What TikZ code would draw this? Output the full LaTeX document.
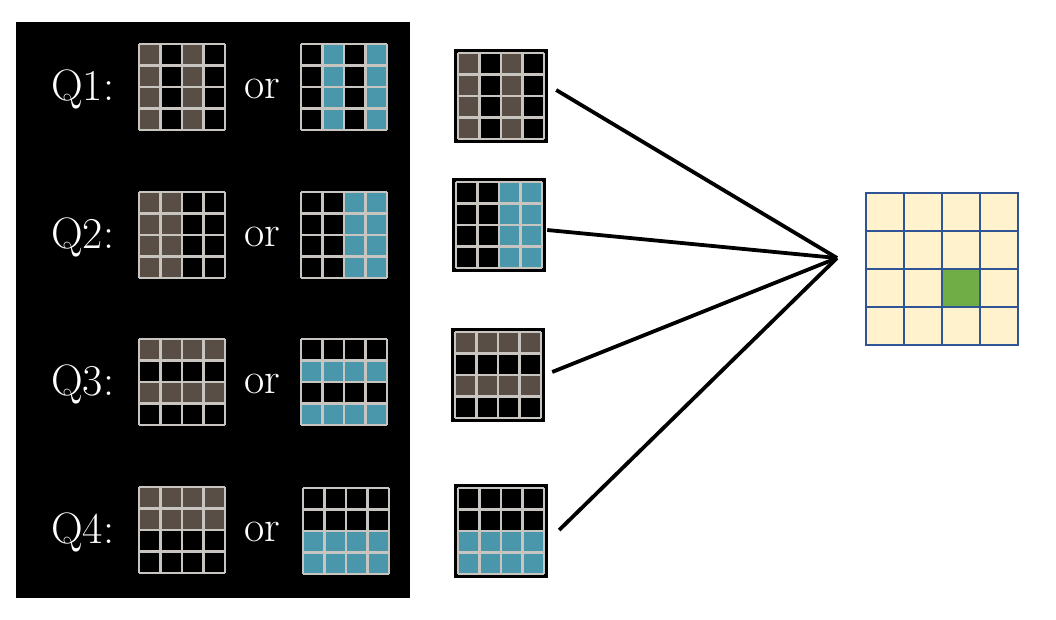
\documentclass[tikz,border=0pt]{standalone}
\usepackage{tikz}

\definecolor{tilebrown}{RGB}{88,78,70}
\definecolor{tileblue}{RGB}{74,150,171}
\definecolor{tileline}{RGB}{200,196,192}
\definecolor{mapcream}{RGB}{255,242,204}
\definecolor{mapline}{RGB}{47,85,151}
\definecolor{mapgreen}{RGB}{112,173,71}

\tikzset{
  tilegrid/.style={draw=tileline, line width=2.4pt, line cap=square},
  qlabel/.style={text=white, inner sep=0pt, anchor=base west, font=\fontsize{44}{50}\selectfont},
  smallbox/.style={fill=black, minimum size=94pt, inner sep=0pt},
  mapcell/.style={fill=mapcream, draw=mapline, line width=1.2pt},
  link/.style={line width=3.8pt, black}
}

% 4x4 tile with coloured columns: x, y, colour, columns
\newcommand{\coltile}[4]{%
  \foreach \k in {#4} {\fill [#3] (#1+\k*21.5,#2) rectangle ++(21.5,86);}
  \foreach \k in {0,...,4} {
    \draw [tilegrid] (#1+\k*21.5,#2) -- ++(0,86);
    \draw [tilegrid] (#1,#2+\k*21.5) -- ++(86,0);
  }
}
% 4x4 tile with coloured rows: x, y, colour, rows
\newcommand{\rowtile}[4]{%
  \foreach \k in {#4} {\fill [#3] (#1,#2+\k*21.5) rectangle ++(86,21.5);}
  \foreach \k in {0,...,4} {
    \draw [tilegrid] (#1+\k*21.5,#2) -- ++(0,86);
    \draw [tilegrid] (#1,#2+\k*21.5) -- ++(86,0);
  }
}

\begin{document}
\begin{tikzpicture}[x=1pt, y=-1pt]

\useasboundingbox (0,0) rectangle (1056,619);

% left panel
\fill [black] (16,22) rectangle (410,598);

\node[qlabel] (q1) at (51,100) {Q1:};
\node[qlabel] (q2) at (51,248) {Q2:};
\node[qlabel] (q3) at (51,395) {Q3:};
\node[qlabel] (q4) at (51,543) {Q4:};

\node[qlabel] (or1) at (244,98) {or};
\node[qlabel] (or2) at (244,246) {or};
\node[qlabel] (or3) at (244,393) {or};
\node[qlabel] (or4) at (244,541) {or};

\coltile{139}{44}{tilebrown}{0,2}
\coltile{301}{44}{tileblue}{1,3}
\coltile{139}{192}{tilebrown}{0,1}
\coltile{301}{192}{tileblue}{2,3}
\rowtile{139}{339}{tilebrown}{0,2}
\rowtile{301}{339}{tileblue}{1,3}
\rowtile{139}{487}{tilebrown}{0,1}
\rowtile{303}{488}{tileblue}{2,3}

% middle column
\node[smallbox] (m1) at (501,96) {};
\node[smallbox] (m2) at (499,225) {};
\node[smallbox] (m3) at (498,375) {};
\node[smallbox] (m4) at (501,531) {};

\coltile{458}{53}{tilebrown}{0,2}
\coltile{456}{182}{tileblue}{2,3}
\rowtile{455}{332}{tilebrown}{0,2}
\rowtile{458}{488}{tileblue}{2,3}

% connectors
\coordinate (hub) at (837,258);
\draw [link] (m1.east) ++(8,-6) -- (hub);
\draw [link] (m2.east) ++(1,5) -- (hub);
\draw [link] (m3.east) ++(7,-3) -- (hub);
\draw [link] (m4.east) ++(11,-1) -- (hub);

% output map
\foreach \i in {0,...,3} {
  \foreach \j in {0,...,3} {
    \filldraw [mapcell] (866+\i*38,193+\j*38) rectangle ++(38,38);
  }
}
\filldraw [mapcell, fill=mapgreen] (942,269) rectangle ++(38,38);

\end{tikzpicture}
\end{document}
